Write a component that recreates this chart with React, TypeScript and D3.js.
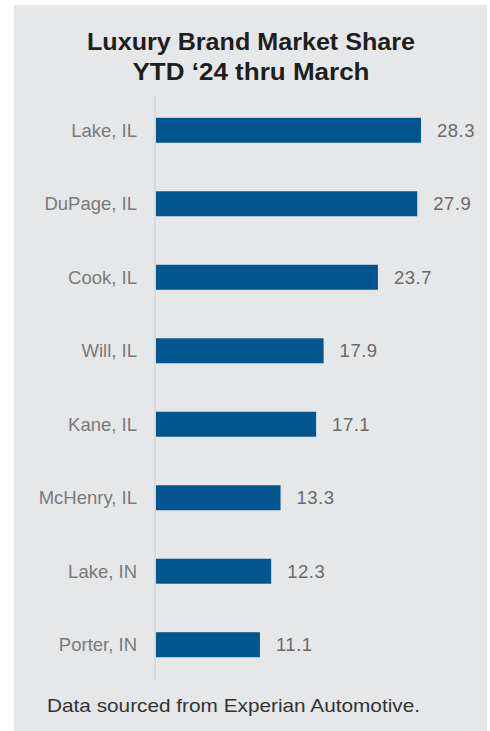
import React from "react";
import * as d3 from "d3";

const categories = ["Lake, IL", "DuPage, IL", "Cook, IL", "Will, IL", "Kane, IL", "McHenry, IL", "Lake, IN", "Porter, IN"];
const values = [28.3, 27.9, 23.7, 17.9, 17.1, 13.3, 12.3, 11.1];
const titleLines = ["Luxury Brand Market Share", "YTD \u201824 thru March"];
const footnote = "Data sourced from Experian Automotive.";

export default function App() {
  const W = 490, H = 731;
  const x = d3.scaleLinear().domain([0, 28.3]).range([156, 421]);
  const y = d3.scaleBand<string>().domain(categories).range([95, 680]).paddingInner(0.66).paddingOuter(0.31);
  const font = "'Liberation Sans', Arial, sans-serif";
  const titleWidths = [328, 237];
  return (
    <svg width={W} height={H} style={{ position: "absolute", left: 0, top: 0 }}>
      <rect x={0} y={0} width={W} height={H} fill="#ffffff" />
      <rect x={14} y={5} width={473} height={H - 5} fill="#e6e7e9" />
      {titleLines.map((t, i) => (
        <text key={i} x={251} y={50 + i * 30} textAnchor="middle" fontFamily={font} fontWeight="bold" fontSize={23} textLength={titleWidths[i]} lengthAdjust="spacingAndGlyphs" fill="#1e1e1e">{t}</text>
      ))}
      <line x1={155} x2={155} y1={95} y2={680} stroke="#d9dadc" strokeWidth={2} />
      {categories.map((c, i) => {
        const by = y(c)!;
        const bw = y.bandwidth();
        return (
          <g key={c}>
            <rect x={x(0)} y={by} width={x(values[i]) - x(0)} height={bw} fill="#03558f" />
            <text x={137} y={by + bw / 2} dy="0.36em" textAnchor="end" fontFamily={font} fontSize={18.5} fill="#7a7a7a">{c}</text>
            <text x={x(values[i]) + 16} y={by + bw / 2} dy="0.36em" textAnchor="start" fontFamily={font} fontSize={18.5} letterSpacing={0.5} fill="#6a6a6a">{d3.format(".1f")(values[i])}</text>
          </g>
        );
      })}
      <text x={47} y={712} fontFamily={font} fontSize={18.5} textLength={373} lengthAdjust="spacingAndGlyphs" fill="#333333">{footnote}</text>
    </svg>
  );
}
